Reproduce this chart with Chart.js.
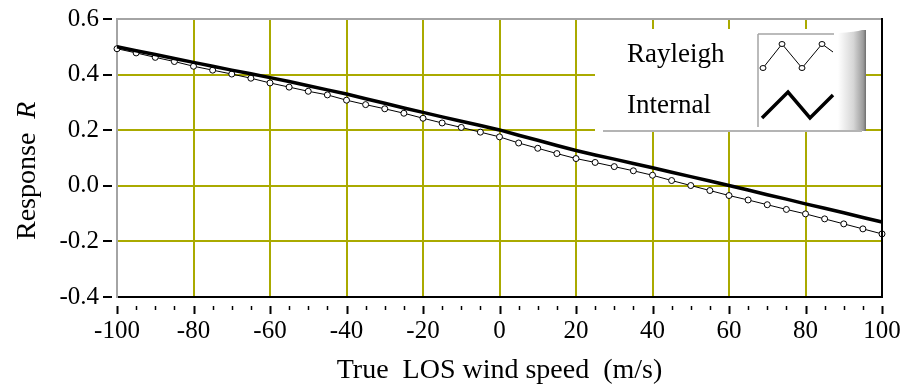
<!DOCTYPE html>
<html lang="en">
<head>
    <meta charset="UTF-8">
    <title>Response vs True LOS wind speed</title>
    <script src="https://cdn.jsdelivr.net/npm/chart.js"></script>
    <style>
        body { margin: 0; background: #fff; }
        #canvas { display: block; }
    </style>
</head>
<body>
<canvas id="canvas" width="904" height="390"></canvas>

<script>
    // wind speed samples (m/s), one every 5
    const windSpeeds = [-100, -95, -90, -85, -80, -75, -70, -65, -60, -55, -50, -45, -40, -35, -30, -25, -20, -15, -10, -5,
        0, 5, 10, 15, 20, 25, 30, 35, 40, 45, 50, 55, 60, 65, 70, 75, 80, 85, 90, 95, 100];

    // response R
    const rayleigh = [0.493, 0.478, 0.462, 0.447, 0.430, 0.416, 0.402, 0.387, 0.370, 0.355, 0.340, 0.327, 0.308, 0.292, 0.277, 0.261, 0.243, 0.226, 0.210, 0.193,
        0.176, 0.154, 0.135, 0.116, 0.098, 0.084, 0.069, 0.054, 0.038, 0.019, 0.001, -0.017, -0.035, -0.051, -0.068, -0.085, -0.101, -0.119, -0.137, -0.155, -0.173];
    const internal = [0.500, 0.486, 0.472, 0.458, 0.444, 0.430, 0.416, 0.403, 0.389, 0.375, 0.360, 0.345, 0.330, 0.313, 0.297, 0.280, 0.264, 0.248, 0.232, 0.217,
        0.201, 0.182, 0.164, 0.145, 0.127, 0.111, 0.096, 0.080, 0.065, 0.049, 0.033, 0.017, 0.001, -0.015, -0.032, -0.048, -0.065, -0.081, -0.097, -0.114, -0.130];

    const seriesNames = ['Rayleigh', 'Internal'];
    const xTitle = 'True  LOS wind speed  (m/s)';

    const FONT = "'Liberation Serif', 'Times New Roman', serif";
    const GRID = '#aaaa00';
    const FRAME_GRAY = '#a4a4a4';

    const toPoints = vals => vals.map((v, i) => ({x: windSpeeds[i], y: v}));

    // everything around the plot that Chart.js has no option for
    const decorations = {
        id: 'decorations',
        afterDatasetsDraw(chart) {
            const ctx = chart.ctx;
            const a = chart.chartArea;
            const xs = chart.scales.x;
            const ys = chart.scales.y;

            const line = (x1, y1, x2, y2) => {
                ctx.beginPath();
                ctx.moveTo(x1, y1);
                ctx.lineTo(x2, y2);
                ctx.stroke();
            };

            ctx.save();

            // top (gray) and right (black) frame
            ctx.lineWidth = 2;
            ctx.strokeStyle = FRAME_GRAY;
            line(a.left, a.top, a.right, a.top);
            ctx.strokeStyle = '#000';
            line(a.right, a.top - 1, a.right, a.bottom + 1);

            // tick marks, detached from the axes
            ctx.strokeStyle = '#000';
            xs.ticks.forEach(t => {
                const px = Math.round(xs.getPixelForValue(t.value)) + 0.5;
                const major = Math.round(t.value) % 20 === 0;
                ctx.lineWidth = major ? 2 : 1.5;
                line(px, a.bottom + 9, px, a.bottom + (major ? 17 : 13));
            });
            ctx.lineWidth = 2;
            ys.ticks.forEach(t => {
                const py = Math.round(ys.getPixelForValue(t.value));
                line(a.left - 14, py, a.left - 5, py);
            });

            // legend panel
            const lx = 595, ly = 29, lw = 271, lh = 102;
            ctx.fillStyle = '#fff';
            ctx.fillRect(lx, ly, lw, lh);
            const grad = ctx.createLinearGradient(lx + lw - 28, 0, lx + lw, 0);
            grad.addColorStop(0, '#ffffff');
            grad.addColorStop(0.55, '#d6d6d6');
            grad.addColorStop(0.9, '#9c9c9c');
            grad.addColorStop(1, '#6e6e6e');
            ctx.fillStyle = grad;
            ctx.beginPath();
            ctx.moveTo(lx + lw - 28, ly + 4);
            ctx.quadraticCurveTo(lx + lw - 10, ly + 3, lx + lw - 4, ly + 1);
            ctx.lineTo(lx + lw, ly + 1);
            ctx.lineTo(lx + lw, ly + lh);
            ctx.lineTo(lx + lw - 28, ly + lh);
            ctx.closePath();
            ctx.fill();
            ctx.strokeStyle = '#b4b4b4';
            ctx.lineWidth = 2;
            line(lx + 8, ly + lh, lx + lw - 4, ly + lh);

            // swatch frame
            ctx.strokeStyle = FRAME_GRAY;
            ctx.lineWidth = 1.5;
            line(758, 34, 834, 34);
            line(758, 34, 758, 127);

            // Rayleigh swatch: thin zigzag with open circles
            const zig1 = [[763, 68], [782, 44], [802, 68], [822, 44], [833, 52]];
            ctx.strokeStyle = '#000';
            ctx.lineWidth = 1;
            ctx.beginPath();
            zig1.forEach((p, i) => i ? ctx.lineTo(p[0], p[1]) : ctx.moveTo(p[0], p[1]));
            ctx.stroke();
            zig1.slice(0, 4).forEach(p => {
                ctx.beginPath();
                ctx.ellipse(p[0], p[1], 3, 2.5, 0, 0, Math.PI * 2);
                ctx.fillStyle = '#fff';
                ctx.fill();
                ctx.stroke();
            });

            // Internal swatch: thick zigzag
            const zig2 = [[762, 118], [788, 92], [810, 118], [833, 95]];
            ctx.lineWidth = 3.5;
            ctx.beginPath();
            zig2.forEach((p, i) => i ? ctx.lineTo(p[0], p[1]) : ctx.moveTo(p[0], p[1]));
            ctx.stroke();

            // legend labels
            ctx.fillStyle = '#000';
            ctx.font = '27px ' + FONT;
            ctx.textAlign = 'left';
            ctx.textBaseline = 'alphabetic';
            ctx.fillText(seriesNames[0], 627, 62);
            ctx.fillText(seriesNames[1], 627, 113);

            // x axis title
            ctx.font = '28px ' + FONT;
            ctx.textAlign = 'center';
            ctx.fillText(xTitle, (a.left + a.right) / 2, 378);

            // y axis title with an italic R
            ctx.translate(35, 240);
            ctx.rotate(-Math.PI / 2);
            ctx.textAlign = 'left';
            ctx.font = '28px ' + FONT;
            const word = 'Response  ';
            ctx.fillText(word, 0, 0);
            const w = ctx.measureText(word).width;
            ctx.font = 'italic 28px ' + FONT;
            ctx.fillText('R', w, 0);

            ctx.restore();
        }
    };

    const ctx = document.getElementById('canvas').getContext('2d');
    new Chart(ctx, {
        type: 'line',
        data: {
            datasets: [{
                label: seriesNames[0],
                data: toPoints(rayleigh),
                borderColor: '#000',
                borderWidth: 1,
                pointRadius: 3,
                pointBorderWidth: 1,
                pointBackgroundColor: '#fff',
                pointBorderColor: '#000',
                tension: 0,
                clip: false,
                order: 1
            }, {
                label: seriesNames[1],
                data: toPoints(internal),
                borderColor: '#000',
                borderWidth: 3.5,
                pointRadius: 0,
                tension: 0,
                clip: false,
                order: 0
            }]
        },
        options: {
            responsive: false,
            animation: false,
            devicePixelRatio: 1,
            layout: {padding: {top: 19, right: 22, left: 0, bottom: 0}},
            plugins: {legend: {display: false}, tooltip: {enabled: false}},
            scales: {
                x: {
                    type: 'linear',
                    min: -100,
                    max: 100,
                    afterFit: s => {
                        s.height = 93;
                        s.paddingLeft = 0;
                        s.paddingRight = 0;
                    },
                    ticks: {
                        stepSize: 5,
                        autoSkip: false,
                        maxRotation: 0,
                        padding: 19,
                        color: '#000',
                        font: {family: FONT, size: 25},
                        callback: v => (Math.round(v) % 20 === 0 ? v : '')
                    },
                    grid: {
                        drawTicks: false,
                        lineWidth: 2,
                        color: c => {
                            const v = c.tick ? c.tick.value : 0;
                            return (Math.round(v) % 20 === 0 && Math.abs(v) < 100) ? GRID : 'rgba(0,0,0,0)';
                        }
                    },
                    border: {color: '#000', width: 2}
                },
                y: {
                    min: -0.4,
                    max: 0.6,
                    afterFit: s => {
                        s.width = 117;
                        s.paddingTop = 0;
                        s.paddingBottom = 0;
                    },
                    ticks: {
                        stepSize: 0.2,
                        padding: 18,
                        color: '#000',
                        font: {family: FONT, size: 25},
                        callback: v => v.toFixed(1)
                    },
                    grid: {
                        drawTicks: false,
                        lineWidth: 2,
                        color: c => (c.index > 0 && c.index < 5 ? GRID : 'rgba(0,0,0,0)')
                    },
                    border: {color: FRAME_GRAY, width: 2}
                }
            }
        },
        plugins: [decorations]
    });
</script>
</body>
</html>
